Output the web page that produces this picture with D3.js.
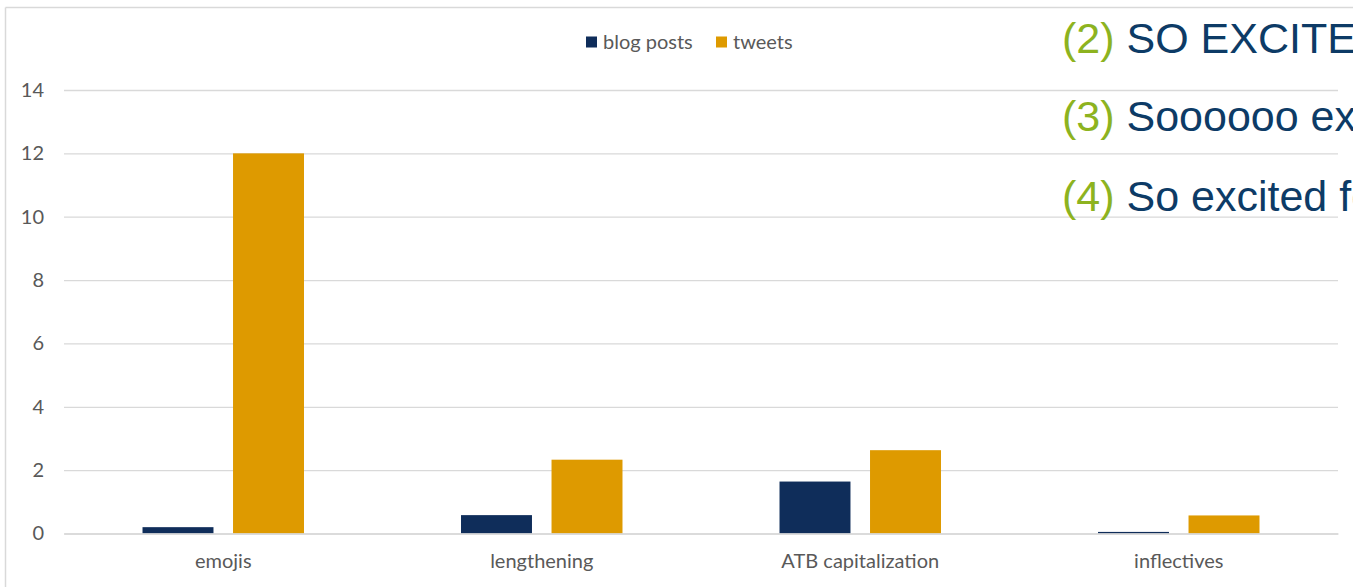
<!DOCTYPE html>
<html>
<head>
<meta charset="utf-8">
<script src="https://cdn.jsdelivr.net/npm/d3@7"></script>
<style>
  html, body { margin: 0; padding: 0; background: #fff; }
  svg { display: block; }
</style>
</head>
<body>
<script>
// Frequency of expressive features per text type
const categories = ["emojis", "lengthening", "ATB capitalization", "inflectives"];
const seriesNames = ["blog posts", "tweets"];
const blogPosts = [0.2, 0.58, 1.64, 0.05];
const tweets = [12, 2.33, 2.63, 0.57];
const yTicks = [0, 2, 4, 6, 8, 10, 12, 14];
const colors = ["#0f2d5a", "#de9a00"];

// Example lines shown at the top right
const exampleNums = ["(2)", "(3)", "(4)"];
const exampleTexts = ["SO EXCITED", "Soooooo excited", "So excited for"];

const W = 1353, H = 587;
const svg = d3.select("body").append("svg").attr("width", W).attr("height", H);

const uiFont = "Lato, 'Open Sans', sans-serif";
const uiSize = "20px";
const plot = { left: 64, right: 1338, top: 90, bottom: 533.5 };

// frame
svg.append("line").attr("x1", 5.5).attr("x2", W).attr("y1", 7.5).attr("y2", 7.5)
  .attr("stroke", "#d9d9d9").attr("stroke-width", 1.5);
svg.append("line").attr("x1", 5.5).attr("x2", 5.5).attr("y1", 7.5).attr("y2", H)
  .attr("stroke", "#d9d9d9").attr("stroke-width", 1.5);

const y = d3.scaleLinear().domain([0, 14]).range([plot.bottom, plot.top]);
const x0 = d3.scaleBand().domain(categories).range([plot.left, plot.right])
  .paddingInner(0.493).paddingOuter(0.2465);
const x1 = d3.scaleBand().domain(seriesNames).range([0, x0.bandwidth()])
  .paddingInner(0.216).paddingOuter(0);

// gridlines and y labels
const yAxis = d3.axisLeft(y).tickValues(yTicks).tickSize(-(plot.right - plot.left)).tickPadding(20).tickFormat(d3.format("d"));
const gy = svg.append("g").attr("transform", `translate(${plot.left},0)`).call(yAxis);
gy.select(".domain").remove();
gy.selectAll(".tick line").attr("stroke", "#d9d9d9").attr("stroke-width", 1.3);
gy.selectAll(".tick text").attr("fill", "#595959").style("font-family", uiFont).style("font-size", uiSize);

// bars
const rows = categories.map((c, i) => ({ cat: c, vals: [blogPosts[i], tweets[i]] }));
const groups = svg.append("g").selectAll("g").data(rows).join("g")
  .attr("transform", d => `translate(${x0(d.cat)},0)`);
groups.selectAll("rect").data(d => d.vals.map((v, k) => ({ name: seriesNames[k], v, k })))
  .join("rect")
  .attr("x", d => x1(d.name))
  .attr("width", x1.bandwidth())
  .attr("y", d => y(d.v))
  .attr("height", d => y(0) - y(d.v))
  .attr("fill", d => colors[d.k]);

// category axis
const xAxis = d3.axisBottom(x0).tickSize(0).tickPadding(20);
const gx = svg.append("g").attr("transform", `translate(0,${plot.bottom})`).call(xAxis);
gx.select(".domain").attr("stroke", "#d9d9d9").attr("stroke-width", 1.5);
gx.selectAll(".tick text").attr("fill", "#595959").style("font-family", uiFont).style("font-size", uiSize);

// legend
const legend = svg.append("g").attr("transform", "translate(586,36.5)");
const legendOffsets = [0, 130];
seriesNames.forEach((n, i) => {
  const g = legend.append("g").attr("transform", `translate(${legendOffsets[i]},0)`);
  g.append("rect").attr("width", 11).attr("height", 11).attr("fill", colors[i]);
  g.append("text").attr("x", 17).attr("y", 12).attr("fill", "#595959")
    .style("font-family", uiFont).style("font-size", uiSize).text(n);
});

// example lines
const exBaselines = [53, 131, 211];
exampleNums.forEach((num, i) => {
  const t = svg.append("text").attr("x", 1062).attr("y", exBaselines[i])
    .style("font-family", "'Liberation Sans', Arial, sans-serif").style("font-size", "43px");
  t.append("tspan").attr("fill", "#8db31f").text(num + " ");
  t.append("tspan").attr("fill", "#0d3b66").text(exampleTexts[i]);
});
</script>
</body>
</html>
